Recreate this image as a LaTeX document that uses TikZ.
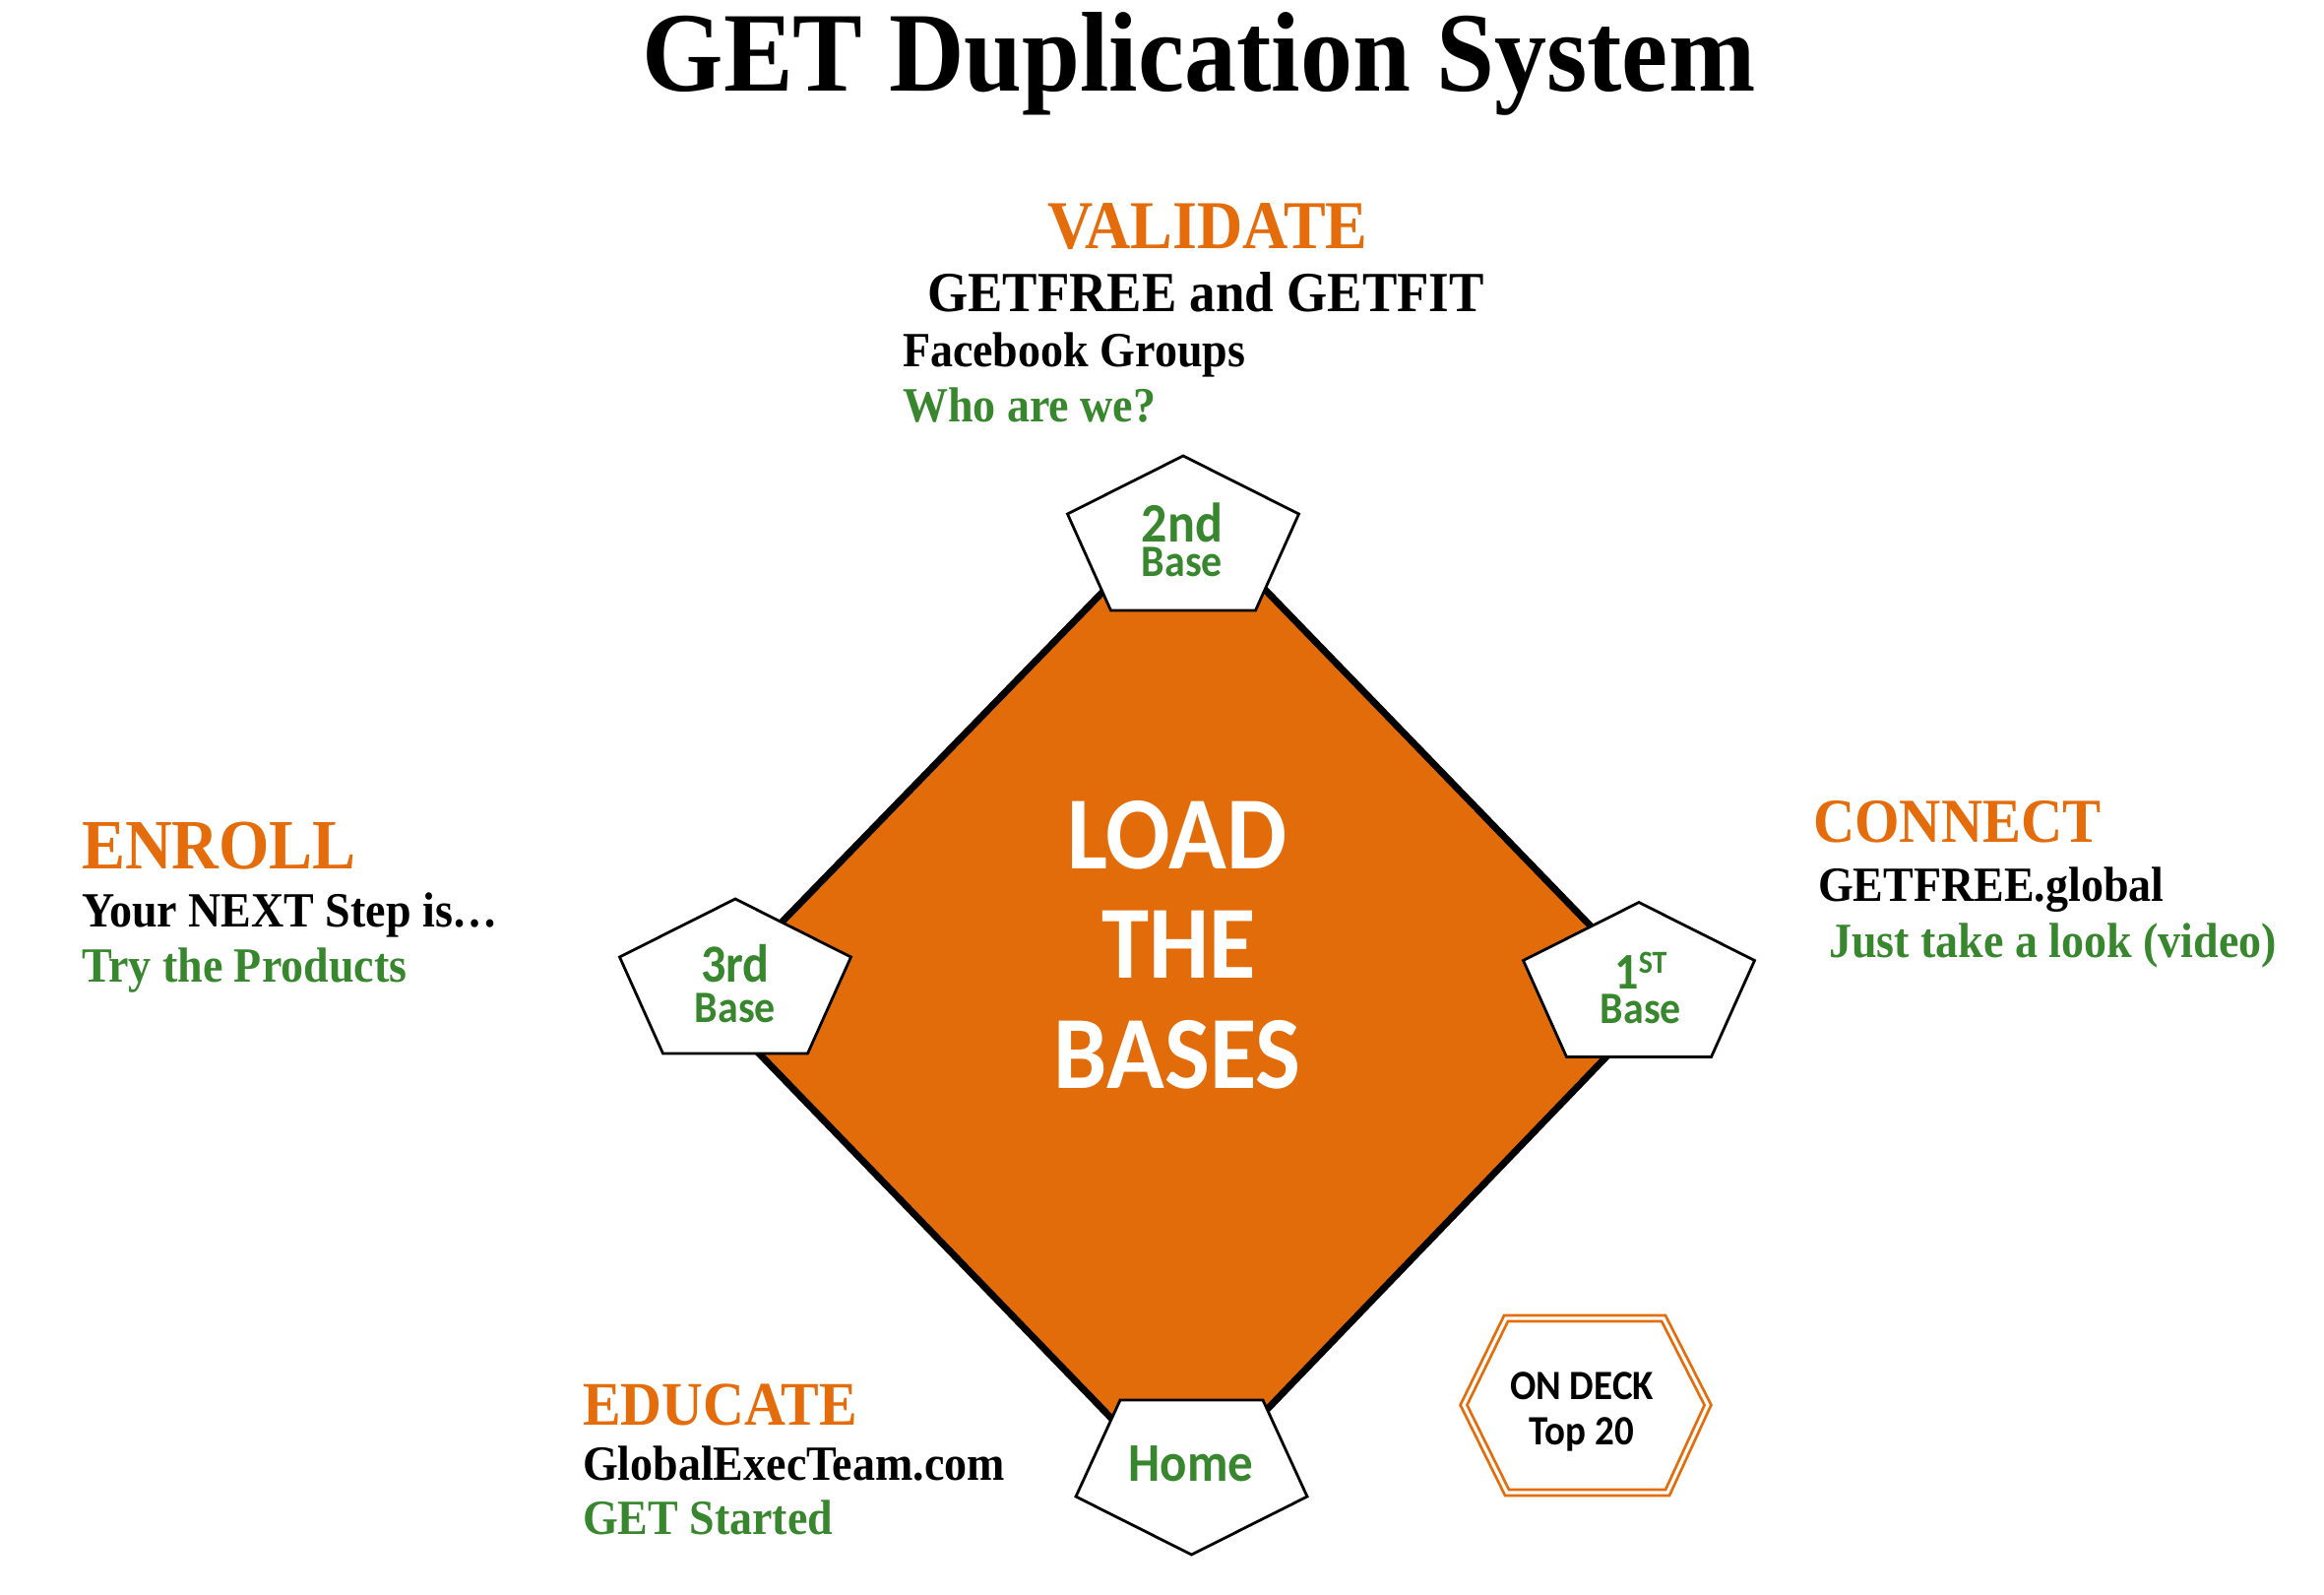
\documentclass[tikz,border=0pt]{standalone}
\usepackage{fontspec}
\setmainfont{Liberation Serif}[FakeStretch=0.92]
\newfontfamily\carl{Carlito}[FakeStretch=0.92]
\newcommand\fsz[1]{\fontsize{#1}{#1}\selectfont}
\definecolor{orng}{HTML}{E46C0A}
\definecolor{dfill}{HTML}{E36C0A}
\definecolor{grn}{HTML}{38872E}
\begin{document}
\begin{tikzpicture}[x=0.5pt,y=-0.5pt,
  txt/.style={inner sep=0pt,outer sep=0pt},
  head/.style={txt,text=orng,font=\bfseries\fsz{#1}},
  body/.style={txt,text=black,font=\bfseries\fsz{#1}},
  note/.style={txt,text=grn,font=\bfseries\fsz{#1}},
  lbl/.style={txt,text=grn,font=\carl\bfseries\fsz{#1}},
  twolbl/.style={txt,text=grn,font=\carl\bfseries\fsz{22.8},align=center,anchor=south},
  big/.style={txt,text=white,font=\carl\bfseries\fsz{52.7}},
  deck/.style={txt,text=black,font=\carl\bfseries\fsz{21.2}},
  diam/.style={draw=black,line width=3.5pt,fill=dfill,line join=miter},
  basebox/.style={draw=black,line width=1.4pt,fill=white,line join=miter},
  hexbox/.style={draw=orng,line width=1.4pt,double=white,double distance=1.6pt,line join=miter}]
\useasboundingbox (0,0) rectangle (2361,1619);
\fill[white] (0,0) rectangle (2361,1619);

% title
\node[txt,font=\bfseries\fsz{57.6},anchor=base] (title) at (1218,92) {GET Duplication System};

% diamond
\draw[diam] (1204,515) -- (1688,1015) -- (1204,1518) -- (718,1015) -- cycle;

% bases
\draw[basebox,shift={(1202,541.5)}] (0,-78.5) -- (117.5,-19.5) -- (73.5,78.5) -- (-73.5,78.5) -- (-117.5,-19.5) -- cycle;
\draw[basebox,shift={(747,991.5)}] (0,-78.5) -- (117.5,-19.5) -- (73.5,78.5) -- (-73.5,78.5) -- (-117.5,-19.5) -- cycle;
\draw[basebox,shift={(1665,995)}] (0,-78.5) -- (117.5,-19.5) -- (73.5,78.5) -- (-73.5,78.5) -- (-117.5,-19.5) -- cycle;
\draw[basebox,shift={(1210.5,1500.5)}] (-72.5,-78.5) -- (72.5,-78.5) -- (117.5,19.5) -- (0,78.5) -- (-117.5,19.5) -- cycle;

\node[twolbl] (b2) at (1201,586) {{\fsz{28.3}2nd}\\[-5.3pt]Base};
\node[twolbl] (b3) at (747,1039) {{\fsz{27.2}3rd}\\[-2.3pt]Base};
\node[twolbl] (b1) at (1667,1040) {{\fsz{26.1}1\raisebox{0.62ex}{\fsz{16.3}ST}}\\[-5.3pt]Base};
\node[lbl=27.7,anchor=base] (home) at (1210,1504) {Home};

% center text
\node[big,anchor=base] (load) at (1196,882) {LOAD};
\node[big,anchor=base] (the) at (1198,993) {THE};
\node[big,anchor=base] (bases) at (1196,1105) {BASES};

% on deck
\draw[hexbox] (1487,1427) -- (1530,1339) -- (1690,1339) -- (1735,1427) -- (1694,1516) -- (1531,1516) -- cycle;
\node[deck,anchor=base] (deck1) at (1607,1421) {ON DECK};
\node[deck,anchor=base] (deck2) at (1607,1467) {Top 20};

% validate
\node[head=34.8,anchor=base] (val) at (1227,252) {VALIDATE};
\node[body=28.8,anchor=base] (val1) at (1225,316) {GETFREE and GETFIT};
\node[body=25,anchor=base west] (val2) at (917,372) {Facebook Groups};
\node[note=25,anchor=base west] (val3) at (917,428) {Who are we?};

% enroll
\node[head=35.9,anchor=base west] (enr) at (83,882) {ENROLL};
\node[body=25,anchor=base west] (enr1) at (83,941) {Your NEXT Step is…};
\node[note=25,anchor=base west] (enr2) at (83,997) {Try the Products};

% connect
\node[head=31.8,anchor=base west] (con) at (1842,855) {CONNECT};
\node[body=25,anchor=base west] (con1) at (1847,915) {GETFREE.global};
\node[note=25,anchor=base west] (con2) at (1858,972) {Just take a look (video)};

% educate
\node[head=31.5,anchor=base west] (edu) at (592,1447) {EDUCATE};
\node[body=25,anchor=base west] (edu1) at (592,1503) {GlobalExecTeam.com};
\node[note=25,anchor=base west] (edu2) at (592,1558) {GET Started};
\end{tikzpicture}
\end{document}
